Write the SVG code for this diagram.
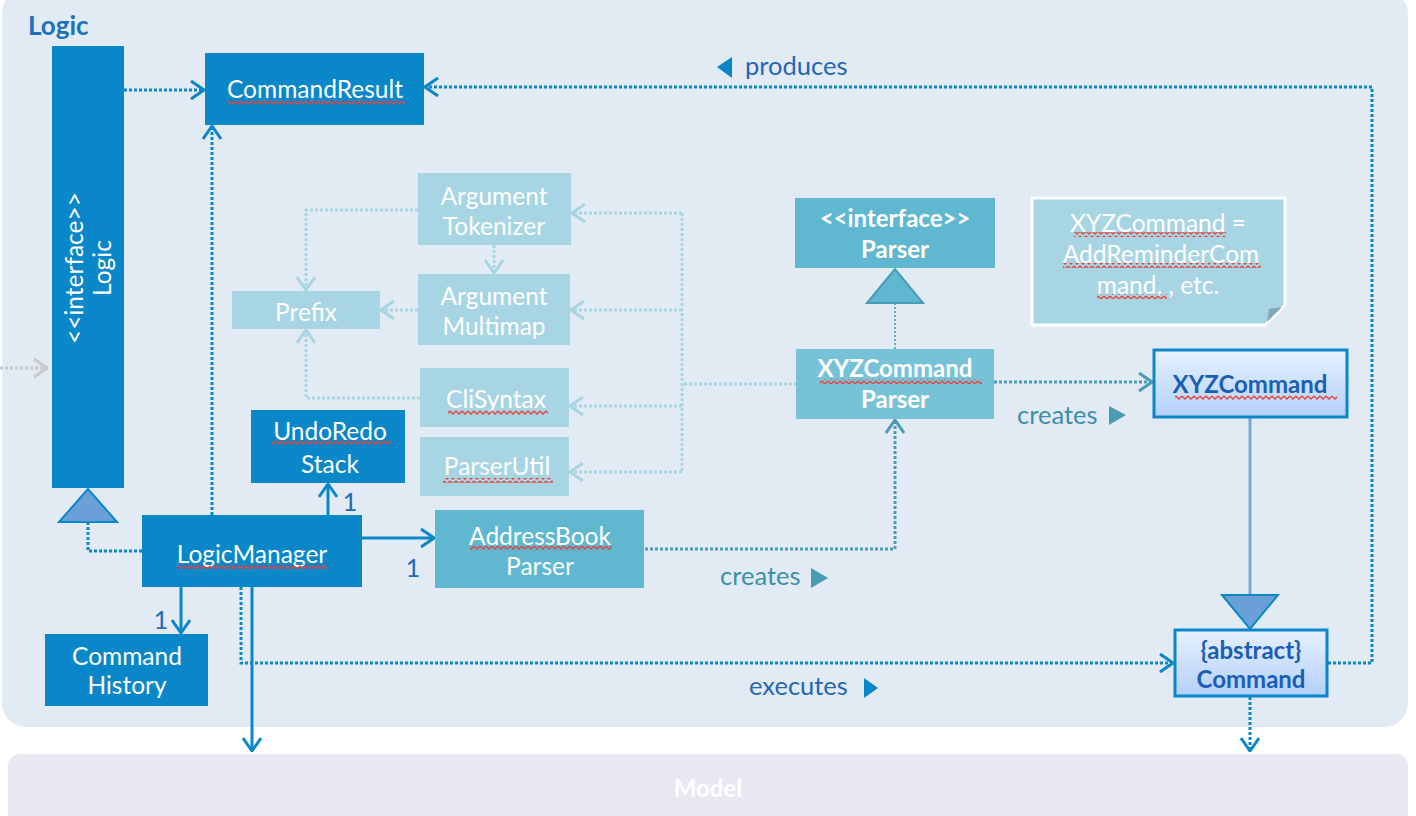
<svg xmlns="http://www.w3.org/2000/svg" width="1416" height="816" viewBox="0 0 1416 816">
<defs>
<style>
.dk{fill:#0A87C9}
.lt{fill:#A8D5E3}
.md{fill:#5FB8D0}
.t{font-family:Lato,"Open Sans",sans-serif;font-size:24.5px;fill:#fff;text-anchor:middle}
.b{font-weight:bold;font-size:24px}
.lbl{font-family:Lato,"Open Sans",sans-serif;font-size:25.5px}
.ddk{stroke:#0A87C9;stroke-width:3;stroke-dasharray:3 2;fill:none}
.dlt{stroke:#A8D5E3;stroke-width:3;stroke-dasharray:3 2;fill:none}
.dtl{stroke:#4A9CB5;stroke-width:3;stroke-dasharray:3 2;fill:none}
.sdk{stroke:#0A87C9;stroke-width:3;fill:none}
.sq{fill:url(#squig)}
</style>
<pattern id="squig" width="6" height="5" patternUnits="userSpaceOnUse"><path d="M0,1 L3,4 L6,1" fill="none" stroke="#E8413A" stroke-width="1.3"/></pattern>
<linearGradient id="grad" x1="0" y1="0" x2="0" y2="1"><stop offset="0" stop-color="#E6F1FF"/><stop offset="1" stop-color="#B3D0F7"/></linearGradient>
<marker id="adk" viewBox="0 0 16 20" refX="15" refY="10" markerWidth="16" markerHeight="20" orient="auto" markerUnits="userSpaceOnUse"><path d="M2,1 L15,10 L2,19" fill="none" stroke="#0A87C9" stroke-width="3"/></marker>
<marker id="alt" viewBox="0 0 16 20" refX="15" refY="10" markerWidth="16" markerHeight="20" orient="auto" markerUnits="userSpaceOnUse"><path d="M2,1 L15,10 L2,19" fill="none" stroke="#A8D5E3" stroke-width="3"/></marker>
<marker id="atl" viewBox="0 0 16 20" refX="15" refY="10" markerWidth="16" markerHeight="20" orient="auto" markerUnits="userSpaceOnUse"><path d="M2,1 L15,10 L2,19" fill="none" stroke="#4A9CB5" stroke-width="3"/></marker>
<marker id="agr" viewBox="0 0 16 20" refX="15" refY="10" markerWidth="16" markerHeight="20" orient="auto" markerUnits="userSpaceOnUse"><path d="M2,1 L15,10 L2,19" fill="none" stroke="#C9C9C9" stroke-width="3"/></marker>
</defs>

<!-- containers -->
<g id="logic-container">
<rect x="2" y="-10" width="1406" height="737" rx="24" fill="#E2EAF4"/>
<text x="28" y="35" font-family="Lato,'Open Sans',sans-serif" font-size="26" font-weight="bold" fill="#1A72B8">Logic</text>
</g>
<g id="model">
<rect x="8" y="754" width="1400" height="80" rx="12" fill="#E9E7F1"/>
<text x="708" y="797" class="t b">Model</text>
</g>

<!-- connectors -->
<g id="connectors">
<path class="dlt" d="M418,210 H306 V290" marker-end="url(#alt)"/>
<path class="dlt" d="M494,245 V273" marker-end="url(#alt)"/>
<path class="dlt" d="M418,310 H381" marker-end="url(#alt)"/>
<path class="dlt" d="M420,398 H306 V330" marker-end="url(#alt)"/>
<path class="dlt" d="M797,384 H682"/>
<path class="dlt" d="M682,213 V472"/>
<path class="dlt" d="M682,213 H572" marker-end="url(#alt)"/>
<path class="dlt" d="M682,310 H571" marker-end="url(#alt)"/>
<path class="dlt" d="M682,406 H570" marker-end="url(#alt)"/>
<path class="dlt" d="M682,472 H570" marker-end="url(#alt)"/>
<path class="ddk" d="M124,90 H204" marker-end="url(#adk)"/>
<path class="ddk" d="M212,515 V126" marker-end="url(#adk)"/>
<path class="ddk" d="M1328,663 H1372 V87 H425" marker-end="url(#adk)"/>
<path class="ddk" d="M241,587 V663 H1173" marker-end="url(#adk)"/>
<path class="ddk" d="M1250,697 V751" marker-end="url(#adk)"/>
<path class="sdk" d="M252,587 V751" marker-end="url(#adk)"/>
<path class="sdk" d="M328,515 V484" marker-end="url(#adk)"/>
<path class="sdk" d="M362,538 H434" marker-end="url(#adk)"/>
<path class="sdk" d="M181,587 V633" marker-end="url(#adk)"/>
<path class="ddk" d="M142,551 H88 V522"/>
<polygon points="88,489 59,522 117,522" fill="#6A9FD8" stroke="#0A87C9" stroke-width="2"/>
<path class="dlt" d="M0,368 H47" style="stroke:#C9C9C9" marker-end="url(#agr)"/>
<path class="dtl" d="M645,549 H895 V420" marker-end="url(#atl)"/>
<path class="dtl" d="M994,382 H1152" marker-end="url(#atl)"/>
<path d="M895,349 V303" stroke="#5FB0C8" stroke-width="2" stroke-dasharray="2 2" fill="none"/>
<polygon points="895,269 867,303 923,303" fill="#5FB8D0" stroke="#4A9CB5" stroke-width="2"/>
<path d="M1250,418 V594" stroke="#7BA6D6" stroke-width="3" fill="none"/>
<polygon points="1222,595 1278,595 1250,629" fill="#6A9FD8" stroke="#0A87C9" stroke-width="2"/>
<text x="1017" y="424" class="lbl" fill="#3C8FA8">creates</text>
<polygon points="1109,406 1126,415 1109,425" fill="#4A9CB5"/>
<text x="720" y="585" class="lbl" fill="#3C8FA8">creates</text>
<polygon points="811,568 828,578 811,588" fill="#4A9CB5"/>
<polygon points="732,57 717,67 732,78" fill="#0A87C9"/>
<text x="745" y="75" class="lbl" fill="#2467B2">produces</text>
<text x="749" y="695" class="lbl" fill="#2467B2">executes</text>
<polygon points="864,678 878,688 864,698" fill="#0A87C9"/>
<text x="350" y="511" class="lbl" fill="#1E6BB8" text-anchor="middle">1</text>
<text x="413" y="577" class="lbl" fill="#1E6BB8" text-anchor="middle">1</text>
<text x="161" y="629" class="lbl" fill="#1E6BB8" text-anchor="middle">1</text>
</g>

<!-- nodes -->
<g id="logic-interface">
<rect x="52" y="46" width="72" height="442" class="dk"/>
<text class="t" transform="translate(88,268) rotate(-90)"><tspan x="0" y="-5">&lt;&lt;interface&gt;&gt;</tspan><tspan x="0" y="23">Logic</tspan></text>
</g>
<g id="command-result">
<rect x="205" y="53" width="219" height="72" class="dk"/>
<text x="315" y="98" class="t">CommandResult</text>
<rect x="227" y="100" width="178" height="5" class="sq"/>
</g>
<g id="argument-tokenizer">
<rect x="418" y="173" width="153" height="72" class="lt"/>
<text class="t"><tspan x="494" y="205">Argument</tspan><tspan x="494" y="235">Tokenizer</tspan></text>
</g>
<g id="argument-multimap">
<rect x="418" y="274" width="152" height="71" class="lt"/>
<text class="t"><tspan x="494" y="305">Argument</tspan><tspan x="494" y="335">Multimap</tspan></text>
</g>
<g id="prefix">
<rect x="232" y="291" width="148" height="38" class="lt"/>
<text x="306" y="321" class="t">Prefix</text>
</g>
<g id="cli-syntax">
<rect x="420" y="368" width="149" height="59" class="lt"/>
<text x="496" y="408" class="t">CliSyntax</text>
<rect x="448" y="410" width="100" height="5" class="sq"/>
</g>
<g id="parser-util">
<rect x="420" y="437" width="149" height="59" class="lt"/>
<text x="497" y="475" class="t">ParserUtil</text>
<rect x="443" y="478" width="110" height="5" class="sq"/>
</g>
<g id="undo-redo-stack">
<rect x="251" y="410" width="154" height="73" class="dk"/>
<text class="t"><tspan x="330" y="440">UndoRedo</tspan><tspan x="330" y="473">Stack</tspan></text>
<rect x="272" y="440" width="120" height="5" class="sq"/>
</g>
<g id="parser-interface">
<rect x="795" y="198" width="200" height="70" class="md"/>
<text class="t b"><tspan x="895" y="227">&lt;&lt;interface&gt;&gt;</tspan><tspan x="895" y="258">Parser</tspan></text>
</g>
<g id="xyz-command-parser">
<rect x="796" y="349" width="198" height="70" fill="#78C2D8"/>
<text class="t b"><tspan x="895" y="377">XYZCommand</tspan><tspan x="895" y="408">Parser</tspan></text>
<rect x="820" y="379" width="162" height="5" class="sq"/>
</g>
<g id="note">
<path d="M1032,198 H1285 V305 L1265,325 H1032 Z" fill="#A8D5E3" stroke="#fff" stroke-width="3"/>
<path d="M1267,322 L1269,309 L1282,307 Z" fill="#7FA9B8"/>
<text class="t"><tspan x="1158" y="232">XYZCommand =</tspan><tspan x="1161" y="263">AddReminderCom</tspan><tspan x="1158" y="294">mand, , etc.</tspan></text>
<rect x="1074" y="232" width="152" height="5" class="sq"/>
<rect x="1063" y="263" width="198" height="5" class="sq"/>
<rect x="1097" y="294" width="70" height="5" class="sq"/>
</g>
<g id="xyz-command">
<rect x="1154" y="350" width="193" height="67" fill="url(#grad)" stroke="#0A87C9" stroke-width="3"/>
<text x="1250" y="393" class="t b" style="fill:#1A5EB8">XYZCommand</text>
<rect x="1175" y="395" width="162" height="5" class="sq"/>
</g>
<g id="command">
<rect x="1175" y="630" width="152" height="66" fill="url(#grad)" stroke="#0A87C9" stroke-width="3"/>
<text class="t b" style="fill:#1A5EB8"><tspan x="1251" y="659">{abstract}</tspan><tspan x="1251" y="688">Command</tspan></text>
</g>
<g id="logic-manager">
<rect x="142" y="515" width="220" height="72" class="dk"/>
<text x="252" y="563" class="t">LogicManager</text>
<rect x="177" y="564" width="151" height="5" class="sq"/>
</g>
<g id="address-book-parser">
<rect x="435" y="510" width="209" height="78" class="md"/>
<text class="t"><tspan x="540" y="545">AddressBook</tspan><tspan x="540" y="575">Parser</tspan></text>
<rect x="470" y="546" width="142" height="5" class="sq"/>
</g>
<g id="command-history">
<rect x="45" y="634" width="163" height="72" class="dk"/>
<text class="t"><tspan x="127" y="665">Command</tspan><tspan x="127" y="694">History</tspan></text>
</g>
</svg>
